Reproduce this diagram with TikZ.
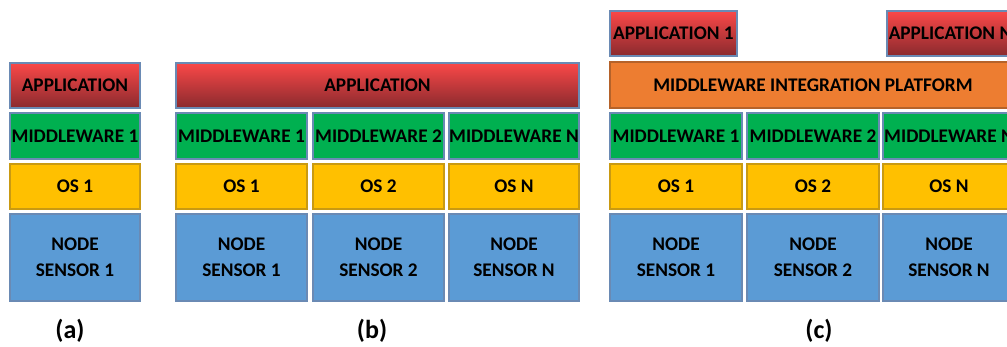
\documentclass[tikz,border=0pt]{standalone}
\usepackage{fontspec}
\setmainfont{Carlito}
\definecolor{appTop}{HTML}{FA4848}
\definecolor{appMid}{HTML}{E84242}
\definecolor{appBot}{HTML}{8A2A2E}
\definecolor{mwGreen}{HTML}{00B050}
\definecolor{osYellow}{HTML}{FFC000}
\definecolor{osBorder}{HTML}{C99A12}
\definecolor{nodeBlue}{HTML}{5B9BD5}
\definecolor{platOrange}{HTML}{ED7D31}
\definecolor{platBorder}{HTML}{B5622A}
\definecolor{bGray}{HTML}{6A8AB4}
\tikzset{
  layer/.style={draw=bGray, line width=1.3pt, inner sep=0pt, outer sep=0pt, text=black,
     font=\fontsize{19.3}{26}\selectfont\bfseries, align=center},
  appbox/.style={layer, top color=appTop, middle color=appMid, bottom color=appBot, shading angle=0},
  mwbox/.style={layer, fill=mwGreen, minimum height=46pt},
  osbox/.style={layer, fill=osYellow, draw=osBorder, minimum height=45pt},
  nodebox/.style={layer, fill=nodeBlue, minimum height=87pt},
  platbox/.style={layer, fill=platOrange, draw=platBorder, minimum height=46pt},
  caption/.style={font=\fontsize{26}{30}\selectfont\bfseries, text=black}
}
\begin{document}
\begin{tikzpicture}[x=1pt,y=-1pt]
\useasboundingbox (0,0) rectangle (1007,347);
\clip (0,0) rectangle (1007,347);
% (a)
\node[appbox, minimum width=130pt, minimum height=45pt] (aApp) at (75,85.5) {APPLICATION};
\node[mwbox, minimum width=130pt] (aMw) at (75,136) {MIDDLEWARE 1};
\node[osbox, minimum width=130pt] (aOs) at (75,186.5) {OS 1};
\node[nodebox, minimum width=130pt] (aNode) at (75,257.5) {NODE\\SENSOR 1};
\node[caption] (capA) at (70,331) {(a)};
% (b)
\node[appbox, minimum width=403pt, minimum height=45pt] (bApp) at (377.5,85.5) {APPLICATION};
\node[mwbox, minimum width=131pt] (bMw1) at (241.5,136) {MIDDLEWARE 1};
\node[mwbox, minimum width=131pt] (bMw2) at (378.5,136) {MIDDLEWARE 2};
\node[mwbox, minimum width=130pt] (bMwN) at (514,136) {MIDDLEWARE N};
\node[osbox, minimum width=131pt] (bOs1) at (241.5,186.5) {OS 1};
\node[osbox, minimum width=131pt] (bOs2) at (378.5,186.5) {OS 2};
\node[osbox, minimum width=130pt] (bOsN) at (514,186.5) {OS N};
\node[nodebox, minimum width=131pt] (bNode1) at (241.5,257.5) {NODE\\SENSOR 1};
\node[nodebox, minimum width=131pt] (bNode2) at (378.5,257.5) {NODE\\SENSOR 2};
\node[nodebox, minimum width=130pt] (bNodeN) at (514,257.5) {NODE\\SENSOR N};
\node[caption] (capB) at (372,331) {(b)};
% (c)
\node[appbox, minimum width=127pt, minimum height=45pt] (cApp1) at (673.5,33.5) {APPLICATION 1};
\node[appbox, minimum width=127pt, minimum height=45pt] (cAppN) at (950.5,33.5) {APPLICATION N};
\node[platbox, minimum width=406pt] (cPlat) at (813,85) {MIDDLEWARE INTEGRATION PLATFORM};
\node[mwbox, minimum width=132pt] (cMw1) at (676,136) {MIDDLEWARE 1};
\node[mwbox, minimum width=132pt] (cMw2) at (813,136) {MIDDLEWARE 2};
\node[mwbox, minimum width=132pt] (cMwN) at (949,136) {MIDDLEWARE N};
\node[osbox, minimum width=132pt] (cOs1) at (676,186.5) {OS 1};
\node[osbox, minimum width=132pt] (cOs2) at (813,186.5) {OS 2};
\node[osbox, minimum width=132pt] (cOsN) at (949,186.5) {OS N};
\node[nodebox, minimum width=132pt] (cNode1) at (676,257.5) {NODE\\SENSOR 1};
\node[nodebox, minimum width=132pt] (cNode2) at (813,257.5) {NODE\\SENSOR 2};
\node[nodebox, minimum width=132pt] (cNodeN) at (949,257.5) {NODE\\SENSOR N};
\node[caption] (capC) at (819,331) {(c)};
\end{tikzpicture}
\end{document}
